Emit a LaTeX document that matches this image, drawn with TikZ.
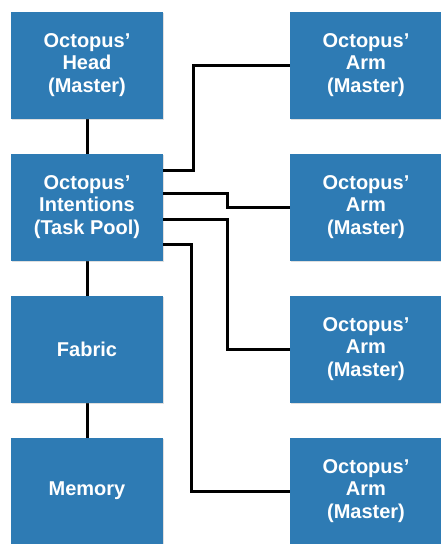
\documentclass[tikz,border=0pt]{standalone}
\usepackage{fontspec}
\setmainfont{Liberation Sans}
\usetikzlibrary{shadows}
\definecolor{boxblue}{HTML}{2E7BB4}
\tikzset{
  blk/.style={fill=boxblue, draw=none, minimum width=152pt, minimum height=107pt,
    inner sep=0pt, text=white, font=\fontsize{20}{22.5}\selectfont\bfseries,
    align=center, drop shadow={opacity=0.25, shadow xshift=0.6pt, shadow yshift=-1.5pt}},
  wire/.style={draw=black, line width=3pt}
}
\begin{document}
\begin{tikzpicture}[x=1pt,y=-1pt]
\fill[white] (0,0) rectangle (440,544);
\useasboundingbox (0,0) rectangle (440,544);
\draw[wire] (87,65) -- (87,207);
\draw[wire] (87,207) -- (87,349);
\draw[wire] (87,349) -- (87,491);
\node[blk] (head) at (87,65) {Octopus’\\Head\\(Master)};
\node[blk] (int) at (87,207) {Octopus’\\Intentions\\(Task Pool)};
\node[blk] (fab) at (87,349) {Fabric};
\node[blk] (mem) at (87,491) {Memory};
\node[blk] (arma) at (366,65) {Octopus’\\Arm\\(Master)};
\node[blk] (armb) at (366,207) {Octopus’\\Arm\\(Master)};
\node[blk] (armc) at (366,349) {Octopus’\\Arm\\(Master)};
\node[blk] (armd) at (366,491) {Octopus’\\Arm\\(Master)};
\draw[wire] (int.east |- 0,170) -- (193,170) |- (arma.west);
\draw[wire] (int.east |- 0,193) -- (227,193) |- (armb.west);
\draw[wire] (int.east |- 0,219) -- (227,219) |- (armc.west);
\draw[wire] (int.east |- 0,244) -- (191,244) |- (armd.west);
\end{tikzpicture}
\end{document}
